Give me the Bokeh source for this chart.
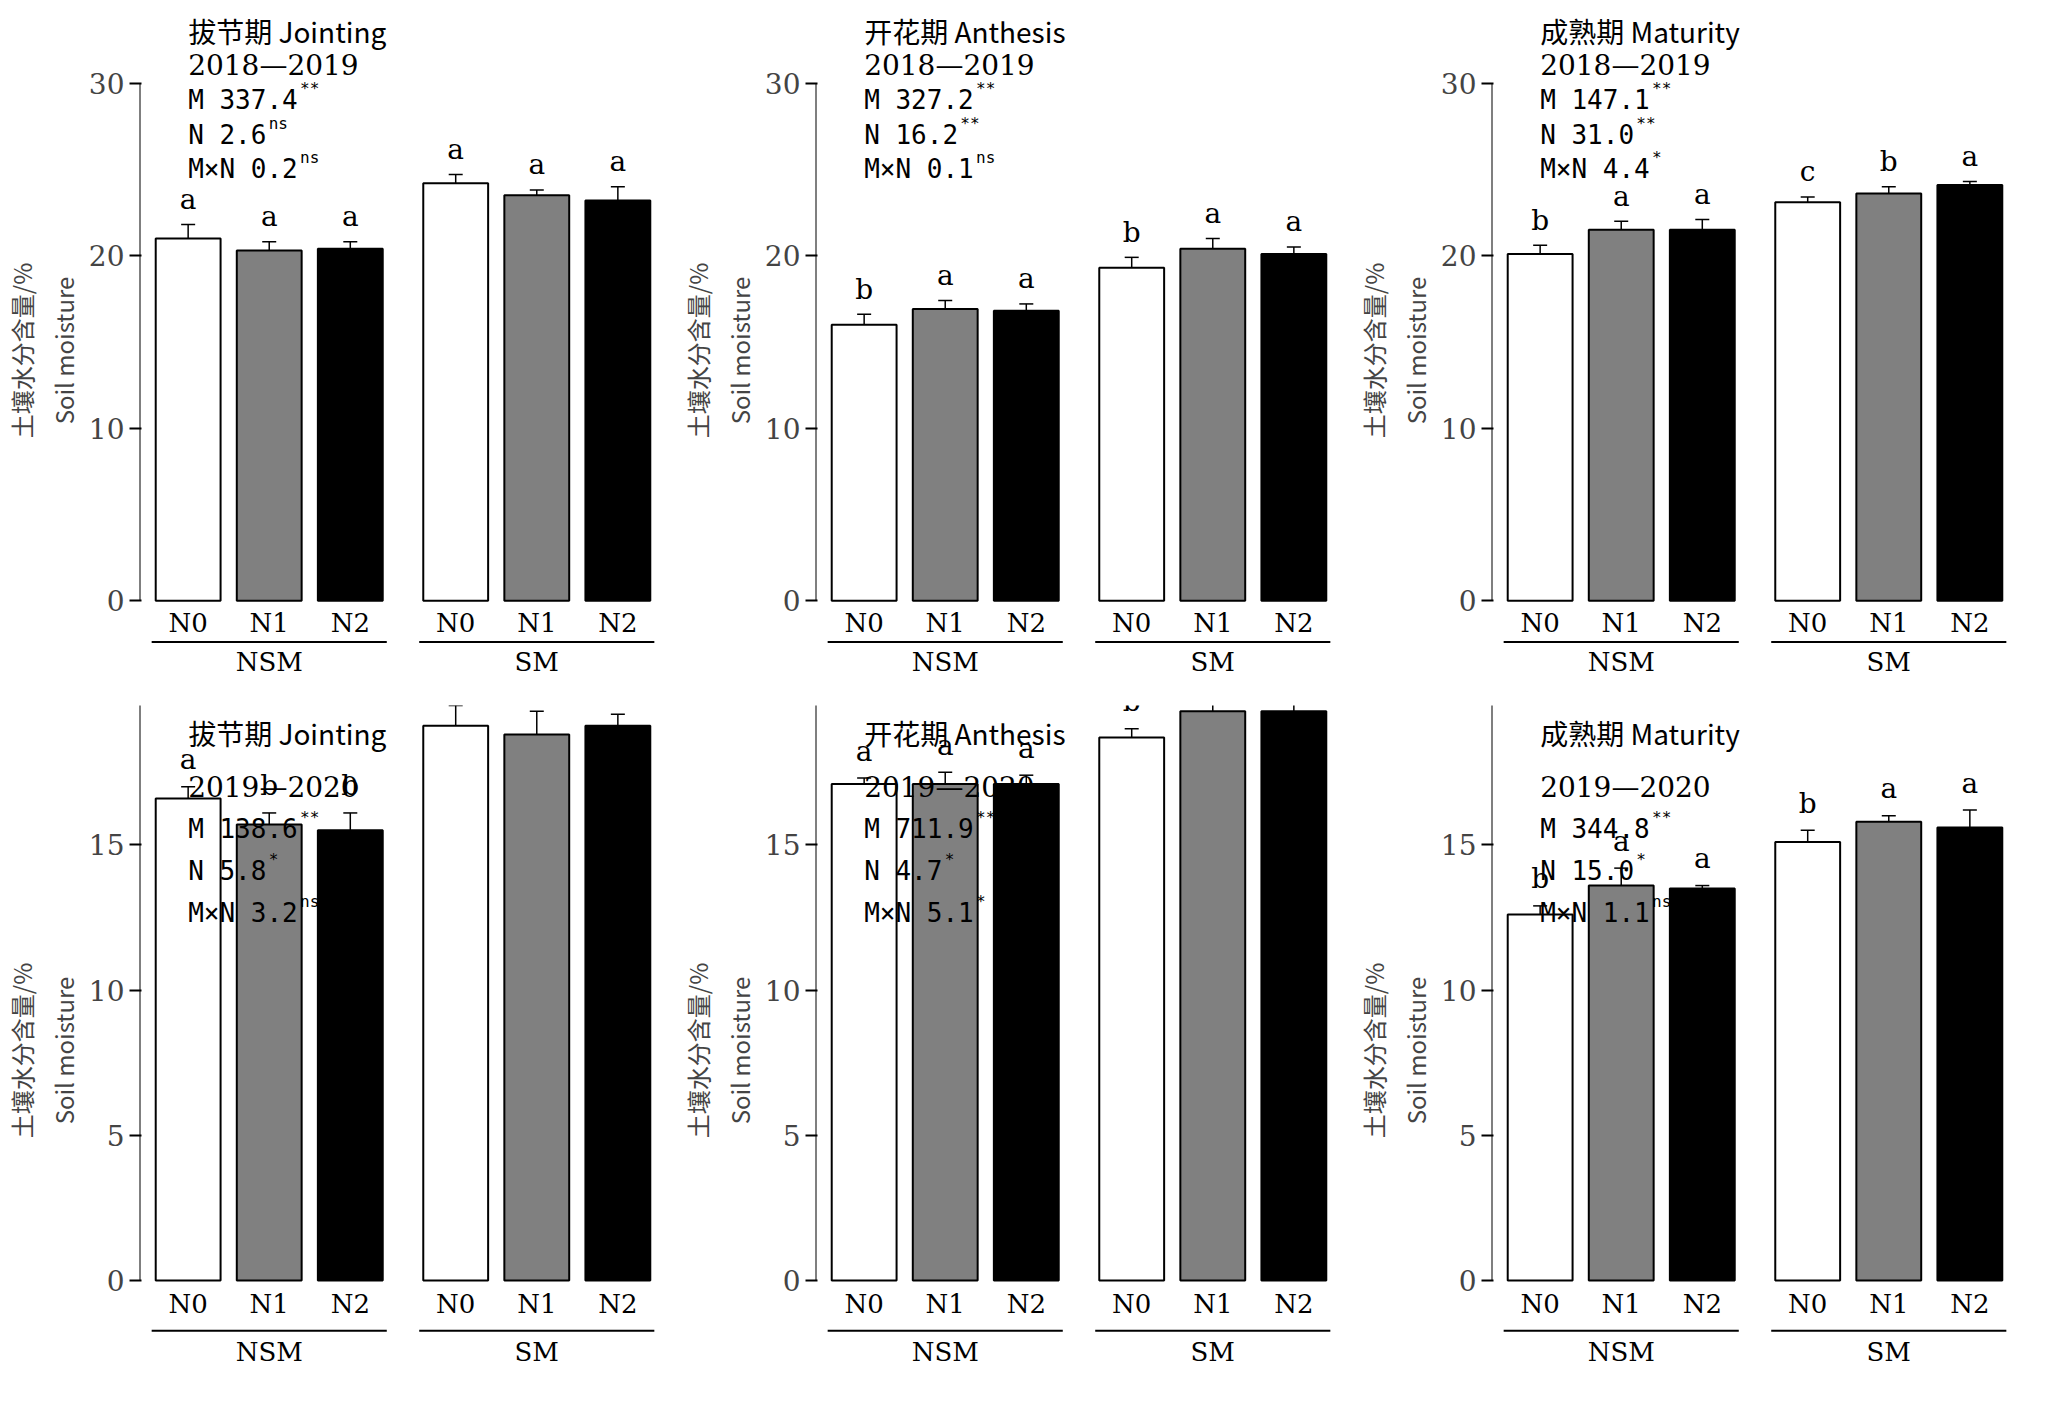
from bokeh.plotting import figure
from bokeh.layouts import gridplot
from bokeh.models import ColumnDataSource, Whisker, TeeHead, FixedTicker
from bokeh.core.properties import value
from bokeh.embed import file_html
from bokeh.resources import INLINE

treat = ["N0", "N1", "N2", "N0", "N1", "N2"]
groups = ["NSM", "SM"]
titles = ["拔节期 Jointing", "开花期 Anthesis", "成熟期 Maturity"] * 2
years = ["2018—2019"] * 3 + ["2019—2020"] * 3
means = [
    [21.0, 20.3, 20.4, 24.2, 23.5, 23.2],
    [16.0, 16.9, 16.8, 19.3, 20.4, 20.1],
    [20.1, 21.5, 21.5, 23.1, 23.6, 24.1],
    [16.6, 15.7, 15.5, 19.1, 18.8, 19.1],
    [17.1, 17.1, 17.1, 18.7, 19.6, 19.6],
    [12.6, 13.6, 13.5, 15.1, 15.8, 15.6],
]
errs = [
    [0.8, 0.5, 0.4, 0.5, 0.3, 0.8],
    [0.6, 0.5, 0.4, 0.6, 0.6, 0.4],
    [0.5, 0.5, 0.6, 0.3, 0.4, 0.2],
    [0.4, 0.4, 0.6, 0.7, 0.8, 0.4],
    [0.2, 0.4, 0.3, 0.3, 0.4, 0.4],
    [0.3, 0.6, 0.1, 0.4, 0.2, 0.6],
]
letters = [
    list("aaaaaa"), list("baabaa"), list("baacba"),
    list("abbaaa"), list("aaabaa"), list("baabaa"),
]
stats = [
    [("M 337.4", "**"), ("N 2.6", "ns"), ("M×N 0.2", "ns")],
    [("M 327.2", "**"), ("N 16.2", "**"), ("M×N 0.1", "ns")],
    [("M 147.1", "**"), ("N 31.0", "**"), ("M×N 4.4", "*")],
    [("M 138.6", "**"), ("N 5.8", "*"), ("M×N 3.2", "ns")],
    [("M 711.9", "**"), ("N 4.7", "*"), ("M×N 5.1", "*")],
    [("M 344.8", "**"), ("N 15.0", "*"), ("M×N 1.1", "ns")],
]
ymax = [30, 30, 30, 20, 20, 20]
yticks = [[0, 10, 20, 30]] * 3 + [[0, 5, 10, 15, 20]] * 3

xpos = [0, 1, 2, 3.3, 4.3, 5.3]
colors = ["white", "#808080", "black"] * 2
MONO = value("DejaVu Sans Mono")
CJK = value("Noto Sans CJK SC")

figs = []
for i in range(6):
    top = ymax[i]
    unit = 1.0 if top == 30 else 0.72
    ystart = -5.5 * unit
    yend = 34.5 * unit if top == 30 else 27.5 * unit
    p = figure(width=676, height=700, x_range=(-0.6, 5.9), y_range=(ystart, yend),
               output_backend="svg", toolbar_location=None,
               min_border_left=130, min_border_right=10, min_border_top=5, min_border_bottom=5)
    p.xaxis.visible = False
    p.grid.visible = False
    p.outline_line_color = None
    p.yaxis.ticker = FixedTicker(ticks=yticks[i])
    p.yaxis.axis_line_color = None
    p.yaxis.major_tick_line_width = 2
    p.yaxis.major_tick_out = 10
    p.yaxis.minor_tick_line_color = None
    p.yaxis.major_label_text_font_size = "28px"
    p.yaxis.major_label_text_font = "DejaVu Serif"
    p.yaxis.axis_label = "土壤水分含量/%\nSoil moisture"
    p.yaxis.axis_label_text_font = "Noto Sans CJK SC"
    p.yaxis.axis_label_text_font_size = "24px"
    p.yaxis.axis_label_text_font_style = "normal"
    p.segment(x0=[-0.6], y0=[0], x1=[-0.6], y1=[top], line_color="black", line_width=2)

    src = ColumnDataSource(dict(x=xpos, m=means[i], lo=[a - b for a, b in zip(means[i], errs[i])],
                                hi=[a + b for a, b in zip(means[i], errs[i])], c=colors,
                                lab=letters[i], t=treat, ty=[-0.4 * unit] * 6,
                                ly=[a + b + 0.5 * unit for a, b in zip(means[i], errs[i])]))
    p.vbar(x="x", top="m", bottom=0, width=0.8, fill_color="c", line_color="black",
           line_width=2, source=src)
    p.add_layout(Whisker(base="x", upper="hi", lower="lo", source=src, line_width=1.5,
                         upper_head=TeeHead(size=14, line_width=1.5),
                         lower_head=TeeHead(size=14, line_width=1.5)))
    p.text(x="x", y="ly", text="lab", source=src, text_align="center", text_baseline="bottom",
           text_font=value("DejaVu Serif"), text_font_size="28px")
    p.text(x="x", y="ty", text="t", source=src, text_align="center",
           text_baseline="top", text_font=value("DejaVu Serif"), text_font_size="26px")
    p.segment(x0=[-0.45, 2.85], y0=[-2.4 * unit] * 2, x1=[2.45, 5.75], y1=[-2.4 * unit] * 2,
              line_color="black", line_width=2)
    p.text(x=[1, 4.3], y=[-2.7 * unit] * 2, text=groups, text_align="center",
           text_baseline="top", text_font=value("DejaVu Serif"), text_font_size="26px")

    p.text(x=[0.0], y=[33.0 * unit if top == 30 else 26.2 * unit], text=[titles[i]],
           text_font=CJK, text_font_size="28px", text_baseline="middle")
    yy = 31.0 * unit if top == 30 else 23.6 * unit
    p.text(x=[0.0], y=[yy], text=[years[i]], text_font=value("DejaVu Serif"),
           text_font_size="28px", text_baseline="middle")
    for k, (mtxt, sup) in enumerate(stats[i]):
        sy = yy - (2.0 + 2.0 * k) * unit
        p.text(x=[0.0], y=[sy], text=[mtxt], text_font=MONO, text_font_size="26px",
               text_baseline="middle")
        p.text(x=[0.0], y=[sy], text=[sup], text_font=MONO, text_font_size="16px",
               text_baseline="bottom", x_offset=len(mtxt) * 15.7 + 2, y_offset=-2)
    figs.append(p)

grid = gridplot([figs[0:3], figs[3:6]], toolbar_location=None)
open("out.html", "w").write(file_html(grid, INLINE))
